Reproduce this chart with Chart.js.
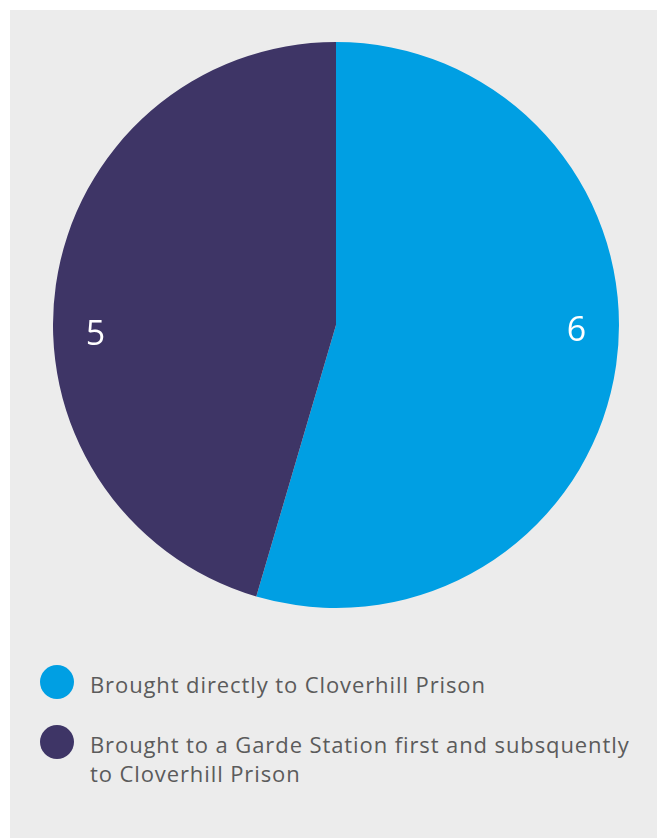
<!DOCTYPE html>
<html>
<head>
<meta charset="utf-8">
<script src="https://cdn.jsdelivr.net/npm/chart.js@4/dist/chart.umd.min.js"></script>
<style>
    html, body { margin: 0; padding: 0; background: #ffffff; }
    #panel {
        position: absolute; left: 10px; top: 10px; width: 647px; height: 828px;
        background: #ececec;
    }
    #pie-box { position: absolute; left: 43px; top: 32px; width: 566px; height: 566px; }
    #legend { position: absolute; left: 30px; top: 655px; width: 610px; }
    .legend-item { display: flex; align-items: flex-start; margin-bottom: 26px; }
    .legend-dot { width: 34px; height: 34px; border-radius: 50%; flex: none; margin-right: 16px; }
    .legend-text {
        margin-top: 5px; font-family: 'Open Sans', sans-serif; font-size: 22px;
        line-height: 29px; color: #5b5b5b; letter-spacing: 0.9px; max-width: 556px;
    }
</style>
</head>
<body>
<div id="panel">
    <div id="pie-box"><canvas id="chart-canvas"></canvas></div>
    <div id="legend"></div>
</div>
<script>
const categories = ['Brought directly to Cloverhill Prison', 'Brought to a Garde Station first and subsquently to Cloverhill Prison']
const values = [6, 5]
const colors = ['#009fe3', '#3e3566']

// Valores escritos em branco, deslocados na horizontal a partir do centro
const valueLabels = {
    id: 'valueLabels',
    afterDatasetsDraw(chart) {
        const ctx = chart.ctx
        const meta = chart.getDatasetMeta(0)
        ctx.save()
        ctx.fillStyle = '#ffffff'
        ctx.font = '34px "Open Sans", sans-serif'
        ctx.textAlign = 'center'
        ctx.textBaseline = 'middle'
        meta.data.forEach((arc, i) => {
            const side = i === 0 ? 1 : -1
            const x = arc.x + side * arc.outerRadius * 0.85
            const y = arc.y + (i === 0 ? 6 : 10)
            ctx.fillText(String(values[i]), x, y)
        })
        ctx.restore()
    }
}

new Chart(document.getElementById('chart-canvas'), {
    type: 'pie',
    data: {
        labels: categories,
        datasets: [{
            data: values,
            backgroundColor: colors,
            borderWidth: 0,
            hoverOffset: 0
        }]
    },
    options: {
        responsive: true,
        maintainAspectRatio: false,
        animation: false,
        layout: { padding: 0 },
        plugins: {
            legend: { display: false },
            tooltip: { enabled: false }
        }
    },
    plugins: [valueLabels]
})

// Legenda em HTML para permitir quebra de linha
const legend = document.getElementById('legend')
categories.forEach((label, i) => {
    const item = document.createElement('div')
    item.className = 'legend-item'
    const dot = document.createElement('div')
    dot.className = 'legend-dot'
    dot.style.background = colors[i]
    const text = document.createElement('div')
    text.className = 'legend-text'
    text.textContent = label
    item.appendChild(dot)
    item.appendChild(text)
    legend.appendChild(item)
})
</script>
</body>
</html>
